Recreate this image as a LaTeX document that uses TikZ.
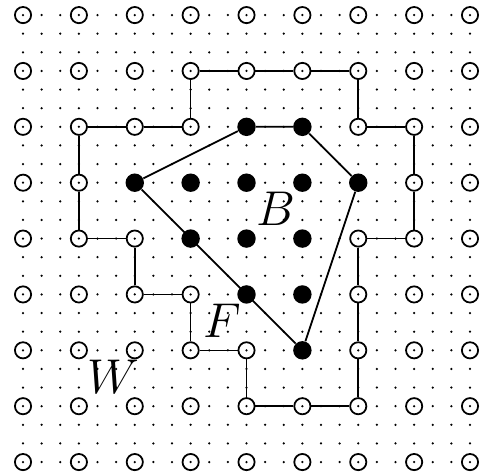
\documentclass[tikz,border=0pt]{standalone}
\usepackage{amsmath}
\usepackage{amssymb}
\usepackage{xstring}

% lattice points that belong to B (x,y with y counted upwards)
\newcommand{\blackset}{(4,6)(5,6)(2,5)(3,5)(4,5)(5,5)(6,5)(3,4)(4,4)(5,4)(4,3)(5,3)(5,2)}

\begin{document}
\begin{tikzpicture}[
    wpt/.style={circle, draw, line width=0.9pt, minimum size=0.29cm, inner sep=0pt},
    bpt/.style={circle, fill, minimum size=0.33cm, inner sep=0pt},
    lbl/.style={font=\Huge}
]
    % Page area with the margins of the picture
    \useasboundingbox (-0.412, -0.197) rectangle (8.197, 8.27);

    % Fine dotted lattice (spacing 1/3)
    \foreach \x in {0,...,24}
        \foreach \y in {0,...,24}
            \fill (\x/3, \y/3) circle (0.022);

    % Coarse lattice: black discs for B, open circles for the rest
    \foreach \i in {0,...,8}
        \foreach \j in {0,...,8} {
            \IfSubStr{\blackset}{(\i,\j)}
                {\node[bpt] (p-\i-\j) at (\i, \j) {};}
                {\node[wpt] (p-\i-\j) at (\i, \j) {};}
        }

    % Convex hull of B
    \draw[line width=0.9pt] (p-2-5) -- (p-4-6) -- (p-5-6) -- (p-6-5) -- (p-5-2) -- (p-2-5);

    % Frontier F (closed lattice path)
    \draw[line width=0.8pt] (p-3-7) -- (p-4-7) -- (p-5-7) -- (p-6-7) -- (p-6-6) -- (p-7-6)
        -- (p-7-5) -- (p-7-4) -- (p-6-4) -- (p-6-3) -- (p-6-2) -- (p-6-1) -- (p-5-1)
        -- (p-4-1) -- (p-4-2) -- (p-3-2) -- (p-3-3) -- (p-2-3) -- (p-2-4) -- (p-1-4)
        -- (p-1-5) -- (p-1-6) -- (p-2-6) -- (p-3-6) -- (p-3-7);

    % Labels
    \node[lbl] (lab-B) at (4.53, 4.54) {$B$};
    \node[lbl] (lab-F) at (3.57, 2.53) {$F$};
    \node[lbl] (lab-W) at (1.61, 1.53) {$W$};
\end{tikzpicture}
\end{document}
